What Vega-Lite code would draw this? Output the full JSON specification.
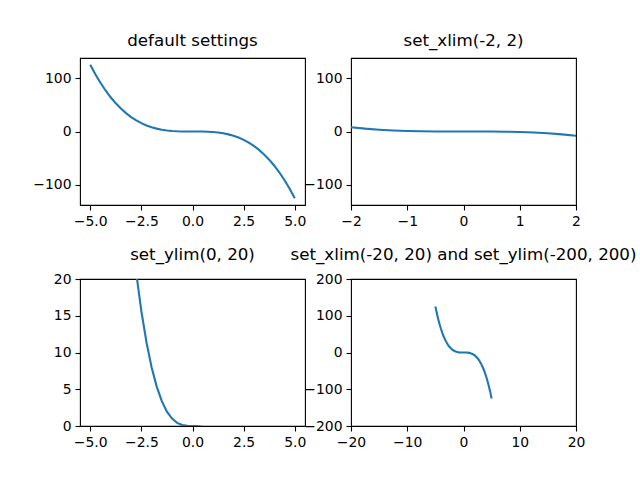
{
  "$schema": "https://vega.github.io/schema/vega-lite/v6.json",
  "background": "white",
  "padding": {"left": 32, "top": 32, "right": 5, "bottom": 5},
  "bounds": "flush",
  "columns": 2,
  "spacing": {"row": 74, "column": 46},
  "config": {
    "font": "DejaVu Sans",
    "view": {"stroke": "black", "strokeWidth": 1.1},
    "axis": {
      "domain": false, "grid": false, "tickColor": "black", "tickSize": 5, "tickWidth": 1.1,
      "labelFont": "DejaVu Sans", "labelFontSize": 13.9, "labelColor": "black", "labelPadding": 4,
      "labelFlush": false, "labelOverlap": false, "title": null
    },
    "title": {"font": "DejaVu Sans", "fontSize": 16.7, "fontWeight": "normal", "color": "black", "anchor": "middle", "baseline": "alphabetic", "offset": 8}
  },
  "datasets": {
    "curve": [
      {"x": -5, "y": 125}, {"x": -4.75, "y": 107.171875}, {"x": -4.5, "y": 91.125}, {"x": -4.25, "y": 76.765625},
      {"x": -4, "y": 64}, {"x": -3.75, "y": 52.734375}, {"x": -3.5, "y": 42.875}, {"x": -3.25, "y": 34.328125},
      {"x": -3, "y": 27}, {"x": -2.75, "y": 20.796875}, {"x": -2.5, "y": 15.625}, {"x": -2.25, "y": 11.390625},
      {"x": -2, "y": 8}, {"x": -1.75, "y": 5.359375}, {"x": -1.5, "y": 3.375}, {"x": -1.25, "y": 1.953125},
      {"x": -1, "y": 1}, {"x": -0.75, "y": 0.421875}, {"x": -0.5, "y": 0.125}, {"x": -0.25, "y": 0.015625},
      {"x": 0, "y": 0},
      {"x": 0.25, "y": -0.015625}, {"x": 0.5, "y": -0.125}, {"x": 0.75, "y": -0.421875}, {"x": 1, "y": -1},
      {"x": 1.25, "y": -1.953125}, {"x": 1.5, "y": -3.375}, {"x": 1.75, "y": -5.359375}, {"x": 2, "y": -8},
      {"x": 2.25, "y": -11.390625}, {"x": 2.5, "y": -15.625}, {"x": 2.75, "y": -20.796875}, {"x": 3, "y": -27},
      {"x": 3.25, "y": -34.328125}, {"x": 3.5, "y": -42.875}, {"x": 3.75, "y": -52.734375}, {"x": 4, "y": -64},
      {"x": 4.25, "y": -76.765625}, {"x": 4.5, "y": -91.125}, {"x": 4.75, "y": -107.171875}, {"x": 5, "y": -125}
    ]
  },
  "concat": [
    {
      "width": 225, "height": 147,
      "title": "default settings",
      "data": {"name": "curve"},
      "mark": {"type": "line", "color": "#1f77b4", "strokeWidth": 2.1, "clip": true},
      "encoding": {
        "x": {"field": "x", "type": "quantitative", "scale": {"domain": [-5.5, 5.5], "nice": false, "zero": false},
              "axis": {"values": [-5, -2.5, 0, 2.5, 5], "labelExpr": "replace(format(datum.value, '.1f'), '-', '−')"}},
        "y": {"field": "y", "type": "quantitative", "scale": {"domain": [-137.5, 137.5], "nice": false, "zero": false},
              "axis": {"values": [-100, 0, 100], "labelExpr": "replace(format(datum.value, 'd'), '-', '−')"}}
      }
    },
    {
      "width": 225, "height": 147,
      "title": "set_xlim(-2, 2)",
      "data": {"name": "curve"},
      "mark": {"type": "line", "color": "#1f77b4", "strokeWidth": 2.1, "clip": true},
      "encoding": {
        "x": {"field": "x", "type": "quantitative", "scale": {"domain": [-2, 2], "nice": false, "zero": false},
              "axis": {"values": [-2, -1, 0, 1, 2], "labelExpr": "replace(format(datum.value, 'd'), '-', '−')"}},
        "y": {"field": "y", "type": "quantitative", "scale": {"domain": [-137.5, 137.5], "nice": false, "zero": false},
              "axis": {"values": [-100, 0, 100], "labelExpr": "replace(format(datum.value, 'd'), '-', '−')"}}
      }
    },
    {
      "width": 225, "height": 147,
      "title": "set_ylim(0, 20)",
      "data": {"name": "curve"},
      "mark": {"type": "line", "color": "#1f77b4", "strokeWidth": 2.1, "clip": true},
      "encoding": {
        "x": {"field": "x", "type": "quantitative", "scale": {"domain": [-5.5, 5.5], "nice": false, "zero": false},
              "axis": {"values": [-5, -2.5, 0, 2.5, 5], "labelExpr": "replace(format(datum.value, '.1f'), '-', '−')"}},
        "y": {"field": "y", "type": "quantitative", "scale": {"domain": [0, 20], "nice": false, "zero": false},
              "axis": {"values": [0, 5, 10, 15, 20], "labelExpr": "replace(format(datum.value, 'd'), '-', '−')"}}
      }
    },
    {
      "width": 225, "height": 147,
      "title": "set_xlim(-20, 20) and set_ylim(-200, 200)",
      "data": {"name": "curve"},
      "mark": {"type": "line", "color": "#1f77b4", "strokeWidth": 2.1, "clip": true},
      "encoding": {
        "x": {"field": "x", "type": "quantitative", "scale": {"domain": [-20, 20], "nice": false, "zero": false},
              "axis": {"values": [-20, -10, 0, 10, 20], "labelExpr": "replace(format(datum.value, 'd'), '-', '−')"}},
        "y": {"field": "y", "type": "quantitative", "scale": {"domain": [-200, 200], "nice": false, "zero": false},
              "axis": {"values": [-200, -100, 0, 100, 200], "labelExpr": "replace(format(datum.value, 'd'), '-', '−')"}}
      }
    }
  ]
}
